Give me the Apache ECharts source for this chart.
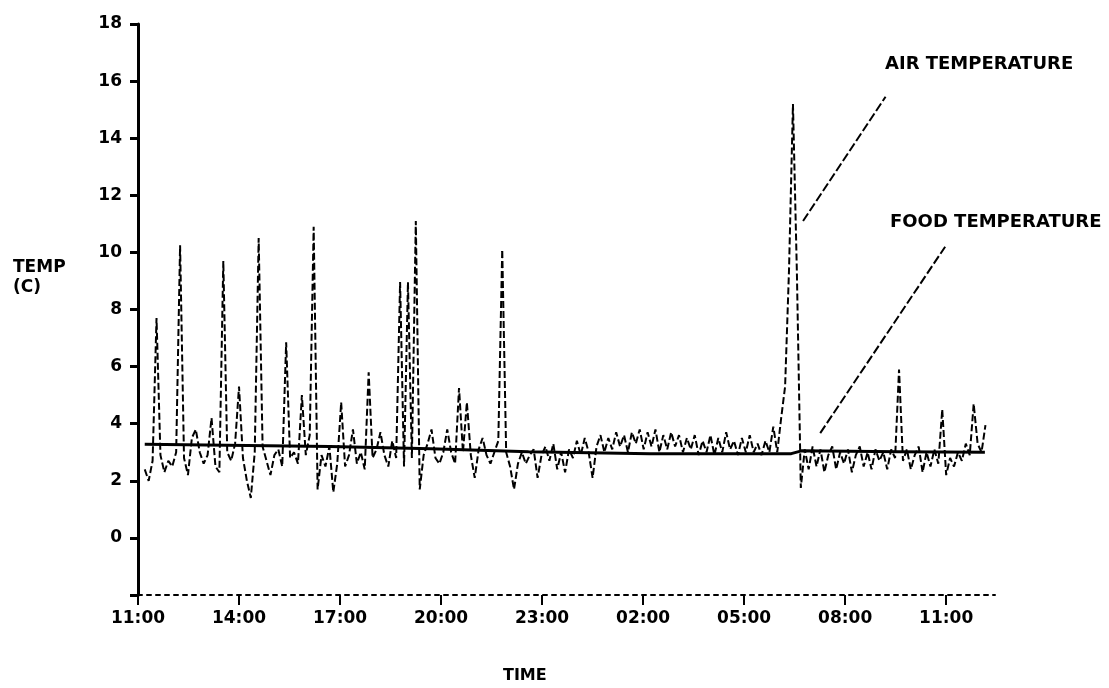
<!DOCTYPE html>
<html>
<head>
<meta charset="utf-8">
<script src="https://cdn.jsdelivr.net/npm/echarts@6/dist/echarts.min.js"></script>
<style>
html,body{margin:0;padding:0;background:#fff;}
#chart{width:1109px;height:688px;}
</style>
</head>
<body>
<div id="chart"></div>
<script>
// Logger starts 11:12 (hours since 11:00), one reading every 7 minutes
var startHour = 0.2;
var sampleMinutes = 7;

// Air temperature readings (°C)
var airTemp = [
  2.4, 2.0, 2.7, 7.7, 2.9, 2.3, 2.7, 2.5, 3.0, 10.25,
  2.8, 2.2, 3.5, 3.8, 3.0, 2.6, 2.9, 4.2, 2.5, 2.3,
  9.7, 3.0, 2.7, 3.3, 5.3, 2.8, 2.0, 1.4, 3.0, 10.5,
  3.2, 2.7, 2.2, 2.9, 3.1, 2.5, 6.85, 2.8, 3.0, 2.6,
  5.0, 2.9, 3.6, 10.9, 1.7, 2.9, 2.5, 3.2, 1.6, 2.6,
  4.75, 2.5, 2.9, 3.8, 2.6, 3.0, 2.4, 5.8, 2.8, 3.1,
  3.7, 2.9, 2.5, 3.4, 2.8, 8.96, 2.5, 8.96, 2.8, 11.1,
  1.7, 2.9, 3.3, 3.8, 2.8, 2.6, 3.0, 3.8, 3.0, 2.6,
  5.25, 3.0, 4.75, 2.9, 2.1, 3.1, 3.5, 2.9, 2.6, 3.0,
  3.4, 10.1, 3.0, 2.5, 1.7, 2.6, 3.0, 2.6, 2.9, 3.1,
  2.1, 2.9, 3.2, 2.7, 3.3, 2.4, 3.0, 2.3, 3.1, 2.8,
  3.4, 2.9, 3.5, 3.0, 2.1, 3.2, 3.6, 3.0, 3.5, 3.1,
  3.7, 3.2, 3.6, 3.0, 3.7, 3.3, 3.8, 3.1, 3.7, 3.2,
  3.8, 3.0, 3.6, 3.1, 3.7, 3.2, 3.6, 3.0, 3.5, 3.1,
  3.6, 2.9, 3.4, 3.0, 3.6, 2.9, 3.5, 3.0, 3.7, 3.1,
  3.4, 2.9, 3.5, 3.0, 3.6, 3.0, 3.3, 2.9, 3.4, 3.0,
  3.9, 3.0, 4.2, 5.3, 9.4, 15.2, 9.3, 1.75, 3.1, 2.4,
  3.2, 2.5, 3.1, 2.3, 2.9, 3.2, 2.4, 3.0, 2.6, 3.1,
  2.3, 2.9, 3.2, 2.5, 3.0, 2.4, 3.1, 2.7, 3.0, 2.4,
  3.1, 2.8, 5.9, 2.7, 3.1, 2.4, 2.9, 3.2, 2.3, 3.0,
  2.5, 3.1, 2.6, 4.5, 2.2, 2.8, 2.5, 3.0, 2.7, 3.3,
  2.9, 4.7, 3.3, 3.0, 3.95
];

// Food temperature (°C) at hours since 11:00
var foodHours = [0.2, 5.7, 8.7, 11.6, 15.2, 19.4, 19.7, 22.6, 25.15];
var foodTemp  = [3.28, 3.2, 3.12, 3.02, 2.95, 2.95, 3.05, 3.02, 3.0];

// Axis tick labels (every 3 hours from 11:00)
var timeTicks = ['11:00','14:00','17:00','20:00','23:00','02:00','05:00','08:00','11:00'];
var tempTicks = [0, 2, 4, 6, 8, 10, 12, 14, 16, 18];

// Annotation leader lines [hours, °C]
var airLeader  = [[19.75, 11.1], [22.2, 15.45]];
var foodLeader = [[20.26, 3.67], [23.97, 10.2]];

var airData = airTemp.map(function (v, i) {
  return [startHour + i * sampleMinutes / 60, v];
});
var foodData = foodHours.map(function (h, i) { return [h, foodTemp[i]]; });

var FONT = 'DejaVu Sans';
var chart = echarts.init(document.getElementById('chart'), null, {renderer: 'canvas'});
chart.setOption({
  animation: false,
  backgroundColor: '#fff',
  grid: {left: 138, right: 114, top: 24, bottom: 93},
  xAxis: {
    type: 'value', min: 0, max: 25.45, interval: 3,
    axisLine: {show: true, onZero: false, lineStyle: {color: '#000', width: 2, type: [4, 5]}},
    axisTick: {show: true, length: 10, lineStyle: {color: '#000', width: 2}},
    splitLine: {show: false},
    axisLabel: {
      margin: 15, color: '#000', fontFamily: FONT, fontSize: 17, fontWeight: 'bold', showMaxLabel: false,
      formatter: function (v) {
        var k = Math.round(v / 3);
        return Math.abs(v - k * 3) < 1e-6 && timeTicks[k] ? timeTicks[k] : '';
      }
    }
  },
  yAxis: {
    type: 'value', min: -2, max: 18, interval: 2,
    axisLine: {show: true, onZero: false, lineStyle: {color: '#000', width: 3}},
    axisTick: {show: true, length: 8, lineStyle: {color: '#000', width: 3}},
    splitLine: {show: false},
    axisLabel: {
      margin: 16, color: '#000', fontFamily: FONT, fontSize: 17, fontWeight: 'bold',
      formatter: function (v) { return tempTicks.indexOf(v) >= 0 ? String(v) : ''; }
    }
  },
  series: [
    {
      name: 'AIR TEMPERATURE', type: 'line', data: airData, symbol: 'none',
      lineStyle: {color: '#000', width: 2, type: [7, 3]}, z: 2
    },
    {
      name: 'FOOD TEMPERATURE', type: 'line', data: foodData, symbol: 'none',
      lineStyle: {color: '#000', width: 3}, z: 3,
      markLine: {
        silent: true, symbol: ['none', 'none'], label: {show: false},
        lineStyle: {color: '#000', width: 2, type: [9, 3]},
        data: [
          [{coord: airLeader[0]}, {coord: airLeader[1]}],
          [{coord: foodLeader[0]}, {coord: foodLeader[1]}]
        ]
      }
    }
  ],
  graphic: [
    {type: 'text', left: 13, top: 258, style: {text: 'TEMP\n(C)', font: 'bold 17px "DejaVu Sans"', fill: '#000', lineHeight: 20}},
    {type: 'text', left: 503, top: 668, style: {text: 'TIME', font: 'bold 16px "DejaVu Sans"', fill: '#000'}},
    {type: 'text', left: 885, top: 55, style: {text: 'AIR TEMPERATURE', font: 'bold 18px "DejaVu Sans"', fill: '#000'}},
    {type: 'text', left: 890, top: 213, style: {text: 'FOOD TEMPERATURE', font: 'bold 18px "DejaVu Sans"', fill: '#000'}}
  ]
});
</script>
</body>
</html>
